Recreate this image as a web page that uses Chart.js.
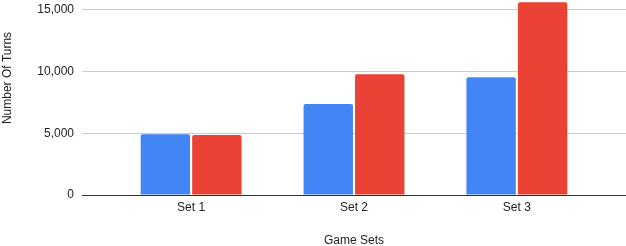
<!DOCTYPE html>
<html>
<head>
<meta charset="utf-8">
<script src="https://cdn.jsdelivr.net/npm/chart.js@4"></script>
<style>
  html, body { margin: 0; padding: 0; background: #fff; }
  canvas { display: block; }
</style>
</head>
<body>
<canvas id="chart" width="626" height="246"></canvas>
<script>
const CATEGORIES = ['Set 1', 'Set 2', 'Set 3'];
const SERIES_A = [4920, 7380, 9540];
const SERIES_B = [4870, 9780, 15620];
const Y_TICKS = [0, 5000, 10000, 15000];
const COLORS = ['#4285f4', '#ea4335'];

const FONT = "Arial, 'Liberation Sans', sans-serif";

// y title sits above the middle of the plot in the original, so draw it by hand
const yTitle = {
    id: 'yTitle',
    afterDraw(chart) {
        const ctx = chart.ctx;
        ctx.save();
        ctx.translate(8, 78);
        ctx.rotate(-Math.PI / 2);
        ctx.font = '12px ' + FONT;
        ctx.fillStyle = '#222';
        ctx.textAlign = 'center';
        ctx.textBaseline = 'middle';
        ctx.fillText('Number Of Turns', 0, 0);
        ctx.restore();
    }
};

const noPad = s => { s.paddingTop = s.paddingBottom = s.paddingLeft = s.paddingRight = 0; };
const toPoints = vals => vals.map((v, i) => ({x: i, y: v}));

new Chart(document.getElementById('chart'), {
    type: 'bar',
    data: {
        datasets: [
            {data: toPoints(SERIES_A), backgroundColor: COLORS[0], borderRadius: {topLeft: 2, topRight: 2}, borderSkipped: 'bottom'},
            {data: toPoints(SERIES_B), backgroundColor: COLORS[1], borderRadius: {topLeft: 2, topRight: 2}, borderSkipped: 'bottom'}
        ]
    },
    options: {
        responsive: false,
        animation: false,
        devicePixelRatio: 1,
        layout: {padding: 0},
        categoryPercentage: 0.632,
        barPercentage: 0.96,
        plugins: {legend: {display: false}, tooltip: {enabled: false}},
        scales: {
            x: {
                type: 'linear',
                offset: false,
                min: -0.67,
                max: 2.67,
                afterBuildTicks: s => { s.ticks = CATEGORIES.map((_, i) => ({value: i})); },
                afterFit: s => { s.height = 51; noPad(s); },
                grid: {display: false, drawTicks: false},
                border: {display: false},
                ticks: {
                    padding: 5,
                    color: '#222',
                    font: {family: FONT, size: 12},
                    callback: v => CATEGORIES[v]
                },
                title: {
                    display: true,
                    text: 'Game Sets',
                    color: '#222',
                    font: {family: FONT, size: 12},
                    padding: {top: 0, bottom: -2}
                }
            },
            y: {
                min: 0,
                max: 15800,
                afterBuildTicks: s => { s.ticks = Y_TICKS.map(v => ({value: v})); },
                afterFit: s => { s.width = 82; noPad(s); },
                grid: {
                    drawTicks: false,
                    color: c => c.tick && c.tick.value === 0 ? '#333' : '#cccccc',
                    lineWidth: 1
                },
                border: {display: false},
                ticks: {
                    padding: 8,
                    color: '#222',
                    font: {family: FONT, size: 12},
                    callback: v => v.toLocaleString('en-US')
                }
            }
        }
    },
    plugins: [yTitle]
});
</script>
</body>
</html>
